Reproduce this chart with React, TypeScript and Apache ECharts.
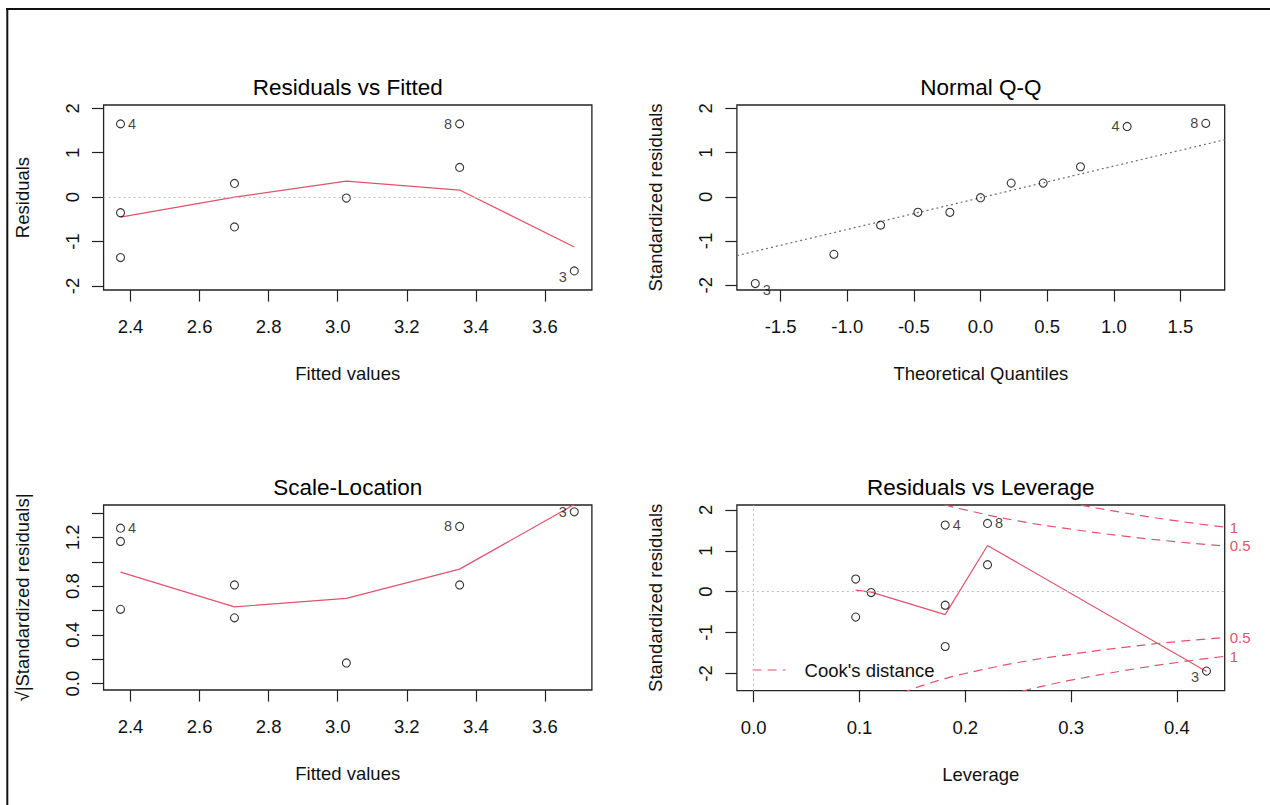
import React, { useEffect, useRef } from "react";
import * as echarts from "echarts";

// ---------- data ----------
// Panel 1: Residuals vs Fitted
const fittedValues = [2.371, 2.371, 2.371, 2.701, 2.701, 3.025, 3.353, 3.353, 3.685];
const residuals = [1.65, -0.35, -1.36, 0.31, -0.67, -0.02, 0.67, 1.65, -1.66];
const residualIds = ["4", "", "", "", "", "", "", "8", "3"];
const residSmoothX = [2.371, 2.701, 3.025, 3.353, 3.685];
const residSmoothY = [-0.45, 0.0, 0.36, 0.16, -1.12];

// Panel 2: Normal Q-Q
const theoreticalQuantiles = [-1.69, -1.1, -0.75, -0.47, -0.23, 0.0, 0.23, 0.47, 0.75, 1.1, 1.69];
const qqStdResiduals = [-1.96, -1.3, -0.64, -0.35, -0.35, -0.02, 0.31, 0.31, 0.68, 1.59, 1.66];
const qqIds = ["3", "", "", "", "", "", "", "", "", "4", "8"];
const qqLineX = [-1.828, 1.832];
const qqLineY = [-1.33, 1.29];

// Panel 3: Scale-Location
const scaleFitted = [2.371, 2.371, 2.371, 2.701, 2.701, 3.025, 3.353, 3.353, 3.685];
const sqrtStdResiduals = [1.276, 1.167, 0.61, 0.81, 0.54, 0.17, 1.29, 0.81, 1.41];
const scaleIds = ["4", "", "", "", "", "", "8", "", "3"];
const scaleSmoothX = [2.371, 2.701, 3.025, 3.353, 3.685];
const scaleSmoothY = [0.915, 0.63, 0.7, 0.94, 1.47];

// Panel 4: Residuals vs Leverage
const leverage = [0.0964, 0.0964, 0.111, 0.181, 0.181, 0.181, 0.221, 0.221, 0.428];
const levStdResiduals = [0.31, -0.62, -0.02, 1.63, -0.33, -1.34, 1.67, 0.66, -1.94];
const leverageIds = ["", "", "", "4", "", "", "8", "", "3"];
const levSmoothX = [0.0964, 0.111, 0.181, 0.221, 0.428];
const levSmoothY = [0.04, -0.01, -0.56, 1.13, -1.95];

// Cook's distance contours
const cookH05 = [0.14, 0.15, 0.16, 0.18, 0.2, 0.25, 0.3, 0.35, 0.4, 0.4452];
const cookUpper05 = [2.48, 2.38, 2.29, 2.13, 2.0, 1.73, 1.53, 1.36, 1.22, 1.12];
const cookLower05 = [-2.48, -2.38, -2.29, -2.13, -2.0, -1.73, -1.53, -1.36, -1.22, -1.12];
const cookH1 = [0.24, 0.26, 0.28, 0.3, 0.35, 0.4, 0.4452];
const cookUpper1 = [2.52, 2.39, 2.27, 2.16, 1.93, 1.73, 1.58];
const cookLower1 = [-2.52, -2.39, -2.27, -2.16, -1.93, -1.73, -1.58];
const cookLevelAt = [1.58, 1.12, -1.12, -1.58];
const cookLevelLabels = ["1", "0.5", "0.5", "1"];

// Axis ranges and ticks
const fittedRange = [2.322, 3.736];
const residRange = [-2.09, 2.075];
const qqXRange = [-1.828, 1.832];
const qqYRange = [-2.106, 2.075];
const scaleYRange = [-0.052, 1.466];
const levXRange = [-0.0159, 0.4452];
const levYRange = [-2.42, 2.12];

const fittedTicks = [2.4, 2.6, 2.8, 3.0, 3.2, 3.4, 3.6];
const residTicks = [-2, -1, 0, 1, 2];
const qqTicks = [-1.5, -1.0, -0.5, 0, 0.5, 1.0, 1.5];
const scaleTicks = [0, 0.2, 0.4, 0.6, 0.8, 1.0, 1.2, 1.4];
const scaleTickLabels = [0, 0.4, 0.8, 1.2];
const leverageTicks = [0, 0.1, 0.2, 0.3, 0.4];

const panelTitles = ["Residuals vs Fitted", "Normal Q-Q", "Scale-Location", "Residuals vs Leverage"];
const xNames = ["Fitted values", "Theoretical Quantiles", "Fitted values", "Leverage"];
const yNames = ["Residuals", "Standardized residuals", "\u221A|Standardized residuals|", "Standardized residuals"];

// ---------- styling ----------
const FONT = '"Liberation Sans", Arial, Helvetica, sans-serif';
const RED = "#DF536B";
const INK = "#111";
const TICK_FS = 18.5;
const ID_FS = 14.5;

const grids = [
  { left: 103.6, top: 105, width: 488.3, height: 185 },
  { left: 736.9, top: 105, width: 487.8, height: 185 },
  { left: 103.6, top: 505, width: 488.3, height: 185 },
  { left: 736.9, top: 505, width: 487.8, height: 185.7 },
];

const zip = (xs: number[], ys: number[]) => xs.map((x, i) => [x, ys[i]]);

function xAxisOf(gi: number, range: number[], ticks: number[], decimals: number, name: string) {
  return {
    type: "value",
    gridIndex: gi,
    position: "bottom",
    min: range[0],
    max: range[1],
    name,
    nameLocation: "middle",
    nameGap: 74,
    nameTextStyle: { fontSize: TICK_FS, color: INK, fontFamily: FONT },
    axisLine: { show: false, onZero: false },
    splitLine: { show: false },
    axisTick: { show: true, inside: false, length: 11.6, customValues: ticks, lineStyle: { color: "#222", width: 1.2 } },
    axisLabel: {
      customValues: ticks,
      formatter: (v: number) => v.toFixed(decimals),
      fontSize: TICK_FS,
      color: INK,
      fontFamily: FONT,
      margin: 27,
    },
  };
}

function yAxisOf(gi: number, range: number[], ticks: number[], labels: number[], decimals: number, name: string) {
  return {
    type: "value",
    gridIndex: gi,
    position: "left",
    min: range[0],
    max: range[1],
    name,
    nameLocation: "middle",
    nameGap: 71.5,
    nameTextStyle: { fontSize: TICK_FS, color: INK, fontFamily: FONT },
    axisLine: { show: false, onZero: false },
    splitLine: { show: false },
    axisTick: { show: true, inside: false, length: 11.6, customValues: ticks, lineStyle: { color: "#222", width: 1.2 } },
    axisLabel: {
      customValues: labels,
      rotate: 90,
      formatter: (v: number) => v.toFixed(decimals),
      fontSize: TICK_FS,
      color: INK,
      fontFamily: FONT,
      margin: 22,
    },
  };
}

function pointSeries(gi: number, xs: number[], ys: number[], ids: string[]) {
  const mid = (Math.min(...xs) + Math.max(...xs)) / 2;
  const data = xs.map((x, i) => {
    const item: any = { value: [x, ys[i]] };
    if (ids[i]) {
      item.label = {
        show: true,
        formatter: ids[i],
        position: x > mid ? "left" : "right",
        distance: 3,
        offset: [0, ys[i] < 0 ? 6 : 0],
        fontSize: ID_FS,
        color: INK,
        fontFamily: FONT,
      };
    }
    return item;
  });
  return {
    type: "scatter",
    xAxisIndex: gi,
    yAxisIndex: gi,
    symbol: "circle",
    symbolSize: 8,
    itemStyle: { color: "rgba(0,0,0,0)", borderColor: "#000", borderWidth: 1.1 },
    label: { show: false },
    data,
    z: 4,
  };
}

function redLine(gi: number, xs: number[], ys: number[]) {
  return {
    type: "line",
    xAxisIndex: gi,
    yAxisIndex: gi,
    data: zip(xs, ys),
    symbol: "none",
    showSymbol: false,
    lineStyle: { color: RED, width: 1.2 },
    clip: true,
    z: 3,
  };
}

function zeroLines(gi: number, marks: any[]) {
  return {
    type: "line",
    xAxisIndex: gi,
    yAxisIndex: gi,
    data: [],
    symbol: "none",
    markLine: {
      silent: true,
      symbol: ["none", "none"],
      label: { show: false },
      lineStyle: { color: "#BEBEBE", type: [2, 3], width: 1.1 },
      data: marks,
    },
    z: 2,
  };
}

function cookSeries(xs: number[], ys: number[]) {
  return {
    type: "line",
    name: "Cook's distance",
    xAxisIndex: 3,
    yAxisIndex: 3,
    data: zip(xs, ys),
    symbol: "none",
    showSymbol: false,
    smooth: true,
    clip: true,
    lineStyle: { color: RED, width: 1.2, type: [9, 6] },
    z: 3,
  };
}

function buildOption() {
  const centers = grids.map((g) => ({ cx: g.left + g.width / 2, top: g.top }));
  return {
    animation: false,
    textStyle: { fontFamily: FONT },
    title: panelTitles.map((t, i) => ({
      text: t,
      left: centers[i].cx,
      top: centers[i].top - 17.7,
      textAlign: "center",
      textVerticalAlign: "middle",
      padding: 0,
      textStyle: { fontSize: 22.5, fontWeight: "normal", color: "#000", fontFamily: FONT },
    })),
    grid: grids.map((g) => ({
      ...g,
      show: true,
      borderColor: "#222",
      borderWidth: 1.3,
      backgroundColor: "transparent",
      containLabel: false,
      outerBoundsMode: "none",
    })),
    legend: {
      data: ["Cook's distance"],
      left: 752,
      top: 660.5,
      padding: 0,
      itemWidth: 33,
      itemHeight: 14,
      selectedMode: false,
      itemStyle: { opacity: 0 },
      lineStyle: { type: [9, 6], width: 1.2, color: RED },
      textStyle: { fontSize: TICK_FS, color: INK, fontFamily: FONT, padding: [0, 0, 0, 14] },
    },
    xAxis: [
      xAxisOf(0, fittedRange, fittedTicks, 1, xNames[0]),
      xAxisOf(1, qqXRange, qqTicks, 1, xNames[1]),
      xAxisOf(2, fittedRange, fittedTicks, 1, xNames[2]),
      xAxisOf(3, levXRange, leverageTicks, 1, xNames[3]),
    ],
    yAxis: [
      yAxisOf(0, residRange, residTicks, residTicks, 0, yNames[0]),
      yAxisOf(1, qqYRange, residTicks, residTicks, 0, yNames[1]),
      yAxisOf(2, scaleYRange, scaleTicks, scaleTickLabels, 1, yNames[2]),
      yAxisOf(3, levYRange, residTicks, residTicks, 0, yNames[3]),
      {
        type: "value",
        gridIndex: 3,
        position: "right",
        min: levYRange[0],
        max: levYRange[1],
        axisLine: { show: false, onZero: false },
        axisTick: { show: false },
        splitLine: { show: false },
        axisLabel: {
          customValues: cookLevelAt,
          formatter: (v: number) => {
            let best = 0;
            cookLevelAt.forEach((c, i) => {
              if (Math.abs(c - v) < Math.abs(cookLevelAt[best] - v)) best = i;
            });
            return cookLevelLabels[best];
          },
          fontSize: 15,
          color: RED,
          fontFamily: FONT,
          margin: 5,
        },
      },
    ],
    graphic: [
      { type: "line", shape: { x1: 6, y1: 9, x2: 1270, y2: 9 }, style: { stroke: "#111", lineWidth: 2 } },
      { type: "line", shape: { x1: 7.3, y1: 8, x2: 7.3, y2: 805 }, style: { stroke: "#111", lineWidth: 2 } },
    ],
    series: [
      // Panel 1
      zeroLines(0, [{ yAxis: 0 }]),
      redLine(0, residSmoothX, residSmoothY),
      pointSeries(0, fittedValues, residuals, residualIds),
      // Panel 2
      {
        type: "line",
        xAxisIndex: 1,
        yAxisIndex: 1,
        data: zip(qqLineX, qqLineY),
        symbol: "none",
        lineStyle: { color: "#6E6E6E", width: 1.2, type: [2, 3] },
        z: 2,
      },
      pointSeries(1, theoreticalQuantiles, qqStdResiduals, qqIds),
      // Panel 3
      redLine(2, scaleSmoothX, scaleSmoothY),
      pointSeries(2, scaleFitted, sqrtStdResiduals, scaleIds),
      // Panel 4
      zeroLines(3, [{ yAxis: 0 }, { xAxis: 0 }]),
      cookSeries(cookH05, cookUpper05),
      cookSeries(cookH05, cookLower05),
      cookSeries(cookH1, cookUpper1),
      cookSeries(cookH1, cookLower1),
      redLine(3, levSmoothX, levSmoothY),
      pointSeries(3, leverage, levStdResiduals, leverageIds),
    ],
  };
}

export default function App() {
  const ref = useRef<HTMLDivElement>(null);
  useEffect(() => {
    if (!ref.current) return;
    const chart = echarts.init(ref.current, null, { renderer: "svg" });
    chart.setOption(buildOption() as any);
    return () => chart.dispose();
  }, []);
  return (
    <div
      ref={ref}
      style={{ position: "fixed", left: 0, top: 0, width: 1270, height: 805, background: "#fff" }}
    />
  );
}
